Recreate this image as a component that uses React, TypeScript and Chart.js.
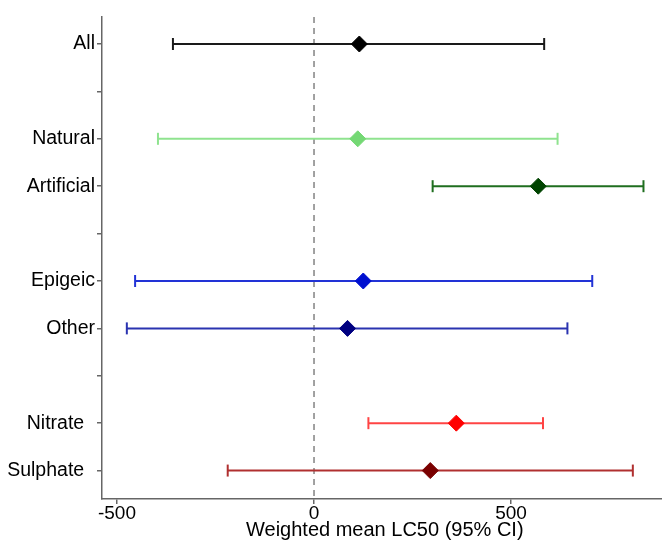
import React, { useEffect, useRef } from "react";
import { Chart, registerables } from "chart.js";

Chart.register(...registerables);

// Y-axis rows (blank rows are spacers between groups)
const categories = ["All", "", "Natural", "Artificial", "", "Epigeic", "Other", "", "Nitrate  ", "Sulphate  "];
const groupNames = ["All", "Natural", "Artificial", "Epigeic", "Other", "Nitrate  ", "Sulphate  "];
const means = [115, 111, 569, 125, 85, 361, 295];
const lowerCI = [-358, -396, 301, -454, -475, 138, -219];
const upperCI = [584, 618, 836, 706, 643, 581, 809];
const lineColors = ["#1a1a1a", "#8fe38f", "#1f6e1f", "#2233d6", "#2a33b0", "#ff4444", "#b03030"];
const pointColors = ["#000000", "#74d874", "#004400", "#0010d0", "#000080", "#ff0000", "#7a0000"];
const xTicks = [-500, 0, 500];
const xTitle = " Weighted mean LC50 (95% CI)";

const FONT = "'Liberation Sans', Arial, sans-serif";

export default function App() {
  const ref = useRef<HTMLCanvasElement | null>(null);

  useEffect(() => {
    if (!ref.current) return;
    const yMin = -0.57;
    const yMax = 9.6;
    const datasets: any[] = [
      {
        label: "zero",
        data: [
          { x: 0, y: yMin },
          { x: 0, y: yMax },
        ],
        showLine: true,
        borderColor: "#8a8a8a",
        borderWidth: 1.6,
        borderDash: [6, 5],
        pointRadius: 0,
        order: 3,
      },
    ];
    groupNames.forEach((g, i) => {
      const y = categories.indexOf(g);
      datasets.push({
        label: g + " CI",
        data: [
          { x: lowerCI[i], y },
          { x: upperCI[i], y },
        ],
        showLine: true,
        borderColor: lineColors[i],
        borderWidth: 2,
        pointStyle: "line",
        pointRotation: 90,
        pointRadius: 6,
        pointBorderWidth: 2,
        pointBorderColor: lineColors[i],
        pointBackgroundColor: lineColors[i],
        order: 2,
      });
      datasets.push({
        label: g,
        data: [{ x: means[i], y }],
        pointStyle: "rectRot",
        pointRadius: 8,
        pointBorderWidth: 1,
        pointBackgroundColor: pointColors[i],
        pointBorderColor: pointColors[i],
        order: 1,
      });
    });

    const chart = new Chart(ref.current, {
      type: "scatter",
      data: { datasets },
      options: {
        animation: false,
        responsive: false,
        maintainAspectRatio: false,
        layout: { autoPadding: false, padding: { top: 17, right: 0, left: 0, bottom: 0 } },
        plugins: { legend: { display: false }, tooltip: { enabled: false } },
        scales: {
          x: {
            type: "linear",
            min: -538,
            max: 883,
            afterBuildTicks: (scale: any) => {
              scale.ticks = xTicks.map((v) => ({ value: v }));
            },
            afterFit: (scale: any) => {
              scale.height = 43;
              scale.paddingLeft = 0;
              scale.paddingRight = 0;
            },
            border: { display: true, color: "#666", width: 1.5 },
            grid: { drawOnChartArea: false, drawTicks: true, tickLength: 5, color: "#666", lineWidth: 1.5 },
            ticks: {
              color: "#000",
              padding: -2,
              font: { family: FONT, size: 19 },
              callback: (v: any) => String(v),
            },
            title: {
              display: true,
              text: xTitle,
              color: "#000",
              padding: { top: 0, bottom: 0 },
              font: { family: FONT, size: 20 },
            },
          },
          y: {
            type: "linear",
            min: yMin,
            max: yMax,
            reverse: true,
            afterBuildTicks: (scale: any) => {
              scale.ticks = categories.map((_, i) => ({ value: i }));
            },
            afterFit: (scale: any) => {
              scale.width = 102;
              scale.paddingTop = 0;
              scale.paddingBottom = 0;
            },
            border: { display: true, color: "#666", width: 1.5 },
            grid: { drawOnChartArea: false, drawTicks: true, tickLength: 5, color: "#666", lineWidth: 1.5 },
            ticks: {
              color: "#000",
              padding: 2,
              autoSkip: false,
              font: { family: FONT, size: 19.5 },
              callback: (v: any) => categories[Math.round(Number(v))] ?? "",
            },
          },
        },
      },
    });
    return () => chart.destroy();
  }, []);

  return (
    <div style={{ position: "absolute", left: 0, top: 0, width: 662, height: 542, background: "#fff" }}>
      <canvas ref={ref} width={662} height={542} style={{ width: 662, height: 542, display: "block" }} />
    </div>
  );
}
